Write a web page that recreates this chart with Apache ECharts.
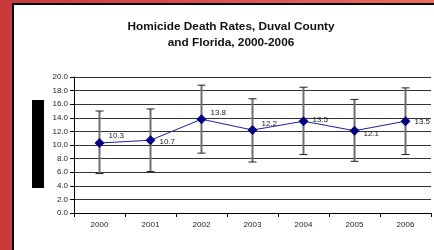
<!DOCTYPE html>
<html>
<head>
<meta charset="utf-8">
<script src="https://cdn.jsdelivr.net/npm/echarts@6/dist/echarts.min.js"></script>
<style>
  html, body { margin: 0; padding: 0; }
  #chart { width: 434px; height: 250px; }
</style>
</head>
<body>
<div id="chart"></div>
<script>
var years = ["2000", "2001", "2002", "2003", "2004", "2005", "2006"];
var rates = [10.3, 10.7, 13.8, 12.2, 13.5, 12.1, 13.5];
var lowCI = [5.8, 6.1, 8.8, 7.5, 8.6, 7.6, 8.6];
var highCI = [15.0, 15.3, 18.8, 16.8, 18.5, 16.7, 18.4];
var yTicks = [0, 2, 4, 6, 8, 10, 12, 14, 16, 18, 20];
// where each value label sits vertically relative to its point
var labelShift = [-7, 2, -6, -6, -1, 3, 1];

var chart = echarts.init(document.getElementById("chart"));

var errData = years.map(function (y, i) {
  return [i, lowCI[i], highCI[i]];
});

var lineData = rates.map(function (v, i) {
  return {
    value: v,
    label: { offset: [0, labelShift[i]] }
  };
});

chart.setOption({
  backgroundColor: {
    type: "linear", x: 0, y: 0, x2: 1, y2: 0,
    colorStops: [
      { offset: 0, color: "#c8393b" },
      { offset: 1, color: "#f06a5c" }
    ]
  },
  animation: false,
  graphic: [
    {
      type: "rect",
      z: -10,
      shape: { x: 13, y: 4, width: 430, height: 260 },
      style: { fill: "#ffffff", stroke: "#000000", lineWidth: 2 }
    },
    {
      type: "rect",
      z: -9,
      shape: { x: 32, y: 100, width: 12, height: 88 },
      style: { fill: "#000000" }
    }
  ],
  title: {
    text: "Homicide Death Rates, Duval County\nand Florida, 2000-2006",
    left: 226,
    top: 14,
    textAlign: "center",
    textStyle: {
      fontFamily: "Liberation Sans, Arial, sans-serif",
      fontSize: 11.8,
      fontWeight: "bold",
      color: "#111",
      lineHeight: 16
    }
  },
  grid: { left: 74, right: 3, top: 77, bottom: 37 },
  xAxis: {
    type: "category",
    data: years,
    boundaryGap: true,
    axisLine: { lineStyle: { color: "#000", width: 1 } },
    axisTick: { show: true, length: 4, inside: false, lineStyle: { color: "#000" } },
    axisLabel: {
      fontFamily: "Liberation Sans, Arial, sans-serif",
      fontSize: 8,
      color: "#222",
      margin: 8
    }
  },
  yAxis: {
    type: "value",
    min: yTicks[0],
    max: yTicks[yTicks.length - 1],
    interval: 2,
    axisLine: { show: true, lineStyle: { color: "#000", width: 1 } },
    axisTick: { show: true, length: 4, lineStyle: { color: "#000" } },
    axisLabel: {
      fontFamily: "Liberation Sans, Arial, sans-serif",
      fontSize: 8,
      color: "#222",
      margin: 6,
      formatter: function (v) { return v.toFixed(1); }
    },
    splitLine: { show: true, lineStyle: { color: "#333", width: 1 } }
  },
  series: [
    {
      type: "custom",
      name: "CI",
      data: errData,
      z: 2,
      renderItem: function (params, api) {
        var x = api.value(0);
        var lo = api.coord([x, api.value(1)]);
        var hi = api.coord([x, api.value(2)]);
        var cap = 4;
        return {
          type: "group",
          children: [
            {
              type: "line",
              shape: { x1: lo[0], y1: lo[1], x2: hi[0], y2: hi[1] },
              style: { stroke: "#6e6e6e", lineWidth: 2 }
            },
            {
              type: "line",
              shape: { x1: hi[0] - cap, y1: hi[1], x2: hi[0] + cap, y2: hi[1] },
              style: { stroke: "#222", lineWidth: 1 }
            },
            {
              type: "line",
              shape: { x1: lo[0] - cap, y1: lo[1], x2: lo[0] + cap, y2: lo[1] },
              style: { stroke: "#222", lineWidth: 1 }
            }
          ]
        };
      }
    },
    {
      type: "line",
      name: "Rate",
      data: lineData,
      z: 3,
      symbol: "diamond",
      symbolSize: 10,
      itemStyle: { color: "#000080" },
      lineStyle: { color: "#2020a0", width: 1 },
      label: {
        show: true,
        position: "right",
        distance: 4,
        fontFamily: "Liberation Sans, Arial, sans-serif",
        fontSize: 8,
        color: "#222",
        formatter: function (p) { return p.value.toFixed(1); }
      }
    }
  ]
});
</script>
</body>
</html>
